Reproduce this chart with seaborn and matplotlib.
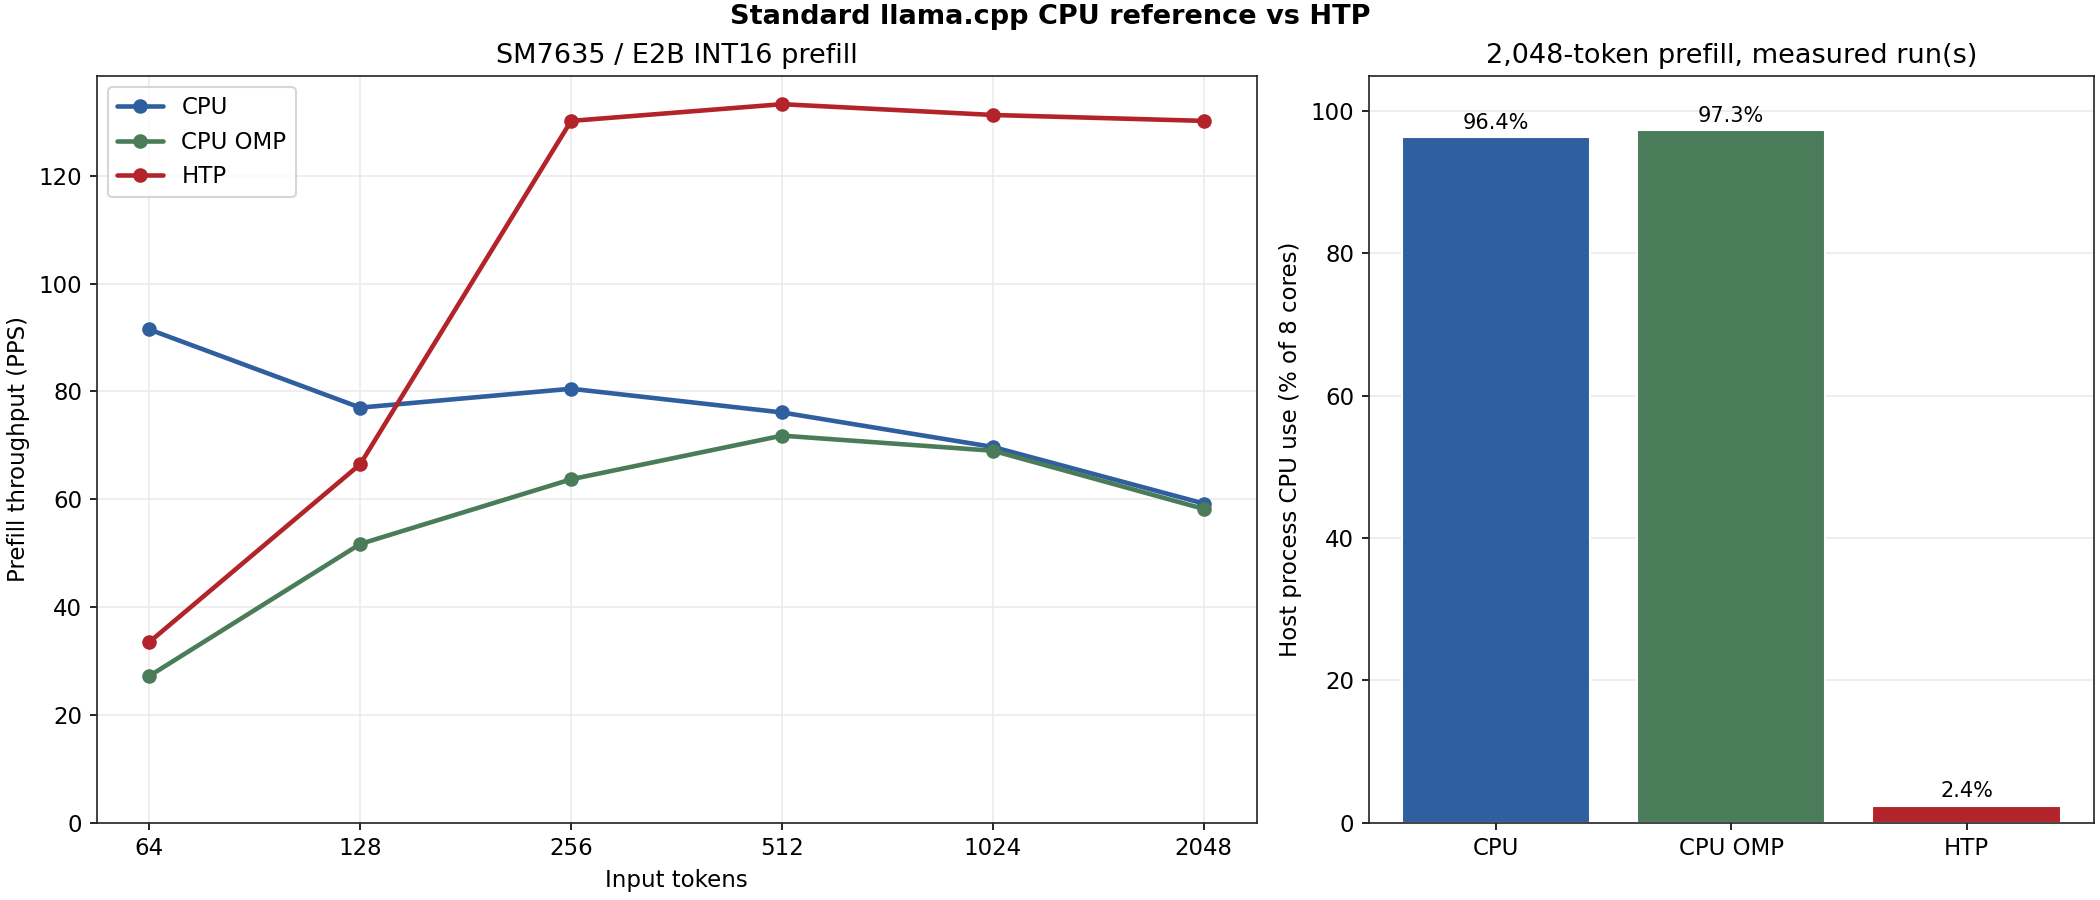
import matplotlib.pyplot as plt
import pandas as pd
import seaborn as sns

plt.switch_backend("Agg")

# === Data ===
TOKENS = [64, 128, 256, 512, 1024, 2048]
CPU_PPS = [91.5, 77.0, 80.5, 76.1, 69.7, 59.2]
CPU_OMP_PPS = [27.2, 51.7, 63.7, 71.8, 69.0, 58.2]
HTP_PPS = [33.5, 66.5, 130.2, 133.3, 131.3, 130.2]

BACKENDS = ["CPU", "CPU OMP", "HTP"]
CPU_USE = [96.4, 97.3, 2.4]

COLORS = {"CPU": "#2f5f9e", "CPU OMP": "#4a7c59", "HTP": "#b2242a"}

sns.set_style("ticks")
plt.rcParams["font.family"] = ["DejaVu Sans"]
plt.rcParams.update({
    "text.color": "black",
    "axes.labelcolor": "black",
    "xtick.color": "black",
    "ytick.color": "black",
    "axes.edgecolor": "#222222",
})


def build_frame() -> pd.DataFrame:
    rows = []
    for name, vals in zip(BACKENDS, [CPU_PPS, CPU_OMP_PPS, HTP_PPS]):
        for t, v in zip(TOKENS, vals):
            rows.append({"tokens": t, "pps": v, "backend": name})
    return pd.DataFrame(rows)


def main() -> None:
    df = build_frame()
    fig, (ax1, ax2) = plt.subplots(
        1, 2, figsize=(14, 6), dpi=150, gridspec_kw={"width_ratios": [1.6, 1]}
    )

    # left: throughput vs prompt length
    for name in BACKENDS:
        sub = df[df["backend"] == name]
        sns.lineplot(
            data=sub, x="tokens", y="pps", color=COLORS[name], marker="o",
            markersize=7, markeredgewidth=0, linewidth=2.2, label=name, ax=ax1,
        )
    ax1.set_xscale("log", base=2)
    ax1.set_xticks(TOKENS)
    ax1.set_xticklabels([str(t) for t in TOKENS])
    ax1.minorticks_off()
    ax1.set_ylim(bottom=0)
    ax1.grid(True, color="#ebebeb", linewidth=0.8)
    ax1.set_axisbelow(True)
    ax1.set_title("SM7635 / E2B INT16 prefill", fontsize=13)
    ax1.set_xlabel("Input tokens", fontsize=11)
    ax1.set_ylabel("Prefill throughput (PPS)", fontsize=11)
    ax1.legend(loc="upper left", fontsize=11)
    ax1.tick_params(labelsize=11)

    # right: host CPU use
    bar_df = pd.DataFrame({"backend": BACKENDS, "use": CPU_USE})
    sns.barplot(
        data=bar_df, x="backend", y="use", hue="backend", palette=COLORS,
        saturation=1, width=0.8, legend=False, ax=ax2,
    )
    for cont in ax2.containers:
        ax2.bar_label(cont, fmt="%.1f%%", padding=2, fontsize=10)
    ax2.set_xlim(-0.54, 2.54)
    ax2.set_ylim(0, 105)
    ax2.yaxis.grid(True, color="#ebebeb", linewidth=0.8)
    ax2.set_axisbelow(True)
    ax2.set_title("2,048-token prefill, measured run(s)", fontsize=13)
    ax2.set_xlabel("")
    ax2.set_ylabel("Host process CPU use (% of 8 cores)", fontsize=11)
    ax2.tick_params(labelsize=11)

    for ax in (ax1, ax2):
        for sp in ax.spines.values():
            sp.set_visible(True)

    fig.suptitle("Standard llama.cpp CPU reference vs HTP", fontsize=13,
                 fontweight="bold", y=0.995)
    fig.subplots_adjust(left=0.046, right=0.997, top=0.916, bottom=0.086, wspace=0.119)
    fig.savefig("out.png", dpi=150)
    plt.close(fig)


if __name__ == "__main__":
    main()
